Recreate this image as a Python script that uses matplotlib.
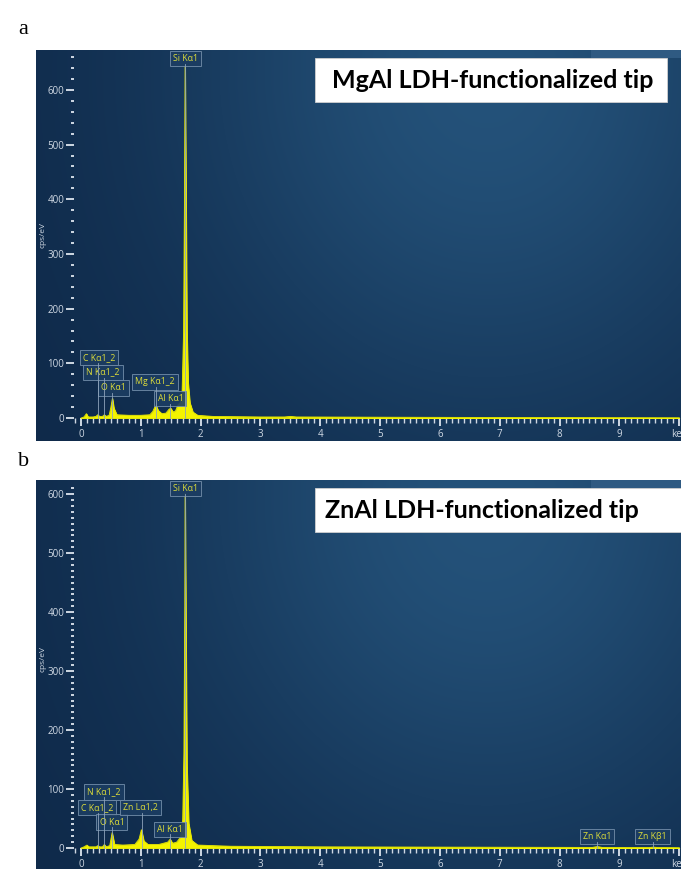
import numpy as np
import matplotlib.pyplot as plt
from matplotlib.patches import Rectangle

# ── Spectrum data ─────────────────────────────────────────────────────────────
energy_a = [0.00, 0.05, 0.09, 0.12, 0.20, 0.25, 0.28, 0.31, 0.36, 0.39, 0.42, 0.47,
            0.50, 0.525, 0.55, 0.60, 0.80, 1.00, 1.15, 1.20, 1.25, 1.29, 1.35, 1.42,
            1.47, 1.50, 1.54, 1.58, 1.62, 1.66, 1.69, 1.715, 1.73, 1.74, 1.755, 1.77,
            1.79, 1.82, 1.87, 1.95, 2.20, 3.00, 3.40, 3.50, 3.60, 5.00, 7.00, 10.0]
counts_a = [0, 2, 8, 2, 2, 3, 6, 3, 3, 6, 3, 5,
            20, 36, 18, 6, 5, 5, 6, 12, 24, 14, 8, 9,
            16, 18, 11, 13, 24, 28, 48, 160, 410, 645, 410, 160,
            65, 28, 11, 5, 3, 2, 2, 3, 2, 1.5, 1, 0.5]

energy_b = [0.00, 0.05, 0.10, 0.13, 0.25, 0.28, 0.31, 0.36, 0.39, 0.42, 0.48, 0.52,
            0.56, 0.70, 0.90, 0.97, 1.01, 1.05, 1.12, 1.30, 1.45, 1.49, 1.53, 1.60,
            1.66, 1.70, 1.72, 1.735, 1.74, 1.755, 1.77, 1.80, 1.85, 1.95, 2.50, 4.00,
            6.00, 8.55, 8.63, 8.71, 9.50, 9.57, 9.64, 10.0]
counts_b = [0, 2, 5, 2, 2, 4, 2, 2, 6, 2, 4, 26,
            6, 5, 6, 15, 31, 12, 6, 6, 10, 15, 8, 10,
            18, 48, 160, 410, 601, 360, 140, 42, 13, 5, 3, 2,
            1.5, 1, 2.5, 1, 0.8, 1.5, 0.8, 0.5]

# peak labels: text, line energy
labels_a = ["Si Kα1", "C Kα1_2", "N Kα1_2", "O Kα1", "Mg Kα1_2", "Al Kα1"]
lines_a = [1.740, 0.277, 0.392, 0.525, 1.254, 1.486]
labels_b = ["Si Kα1", "N Kα1_2", "C Kα1_2", "O Kα1", "Zn Lα1,2", "Al Kα1", "Zn Kα1", "Zn Kβ1"]
lines_b = [1.740, 0.392, 0.277, 0.525, 1.012, 1.486, 8.630, 9.570]

# label box placement (x anchor, y centre, alignment)
place_a = [(1.74, 657, "center"), (0.03, 110, "left"), (0.09, 84, "left"),
           (0.33, 55, "left"), (0.91, 66, "left"), (1.28, 35, "left")]
place_b = [(1.74, 610, "center"), (0.10, 95, "left"), (0.00, 68, "left"),
           (0.31, 44, "left"), (0.71, 68, "left"), (1.27, 32, "left"),
           (8.63, 19, "center"), (9.55, 19, "center")]

titles = ["MgAl LDH-functionalized tip", "ZnAl LDH-functionalized tip"]

YELLOW = "#f4f400"
LABEL_TXT = "#dcdc3a"
TICK_C = "#cfd8e3"
SANS = ["Open Sans", "DejaVu Sans"]

fig = plt.figure(figsize=(6.81, 8.69), dpi=100)
fig.patch.set_facecolor("white")

W, H = 681, 869
ax_a = fig.add_axes([36 / W, (H - 441) / H, (W - 36) / W, (441 - 50) / H])
ax_b = fig.add_axes([36 / W, 0, (W - 36) / W, (H - 480) / H])

# background gradient (dark navy on the left, lighter towards upper right)
gx, gy = np.meshgrid(np.linspace(0, 1, 200), np.linspace(1, 0, 120))
glow = np.exp(-((gx - 0.70) ** 2 / 0.25 + (gy - 0.95) ** 2 / 0.9))
dark = np.array([14, 40, 72]) / 255
light = np.array([36, 82, 122]) / 255
grad = dark + (light - dark) * glow[..., None]


def draw_panel(ax, energy, counts, labels, lines, place, ylim, ymajor, yminor,
               half_box, title, title_x, box_x1, ylab_y):
    ax.imshow(grad, extent=[0, 1, 0, 1], transform=ax.transAxes,
              aspect="auto", zorder=0, interpolation="bilinear")
    # faint strip at top right
    ax.add_patch(Rectangle((0.86, 0.98), 0.14, 0.02, transform=ax.transAxes,
                           facecolor="#2f5a82", edgecolor="none", zorder=1))

    ax.fill_between(energy, counts, 0, color=YELLOW, lw=0.6, zorder=2)
    ax.plot(energy, counts, color="#e8e800", lw=0.6, zorder=2)

    for (txt, e, (lx, ly, ha)) in zip(labels, lines, place):
        ax.plot([e, e], [0, ly - half_box], color="#8ea3ba", lw=0.6, zorder=5)
        ax.text(lx, ly, txt, ha=ha, va="center", fontsize=6.3, color=LABEL_TXT,
                family=SANS, zorder=4,
                bbox=dict(boxstyle="square,pad=0.35", facecolor="#1c3d62",
                          edgecolor="#6f8aa6", linewidth=0.7, alpha=0.9))

    ax.set_xlim(-0.752, 10.03)
    ax.set_ylim(*ylim)

    for s in ax.spines.values():
        s.set_visible(False)
    ax.spines["left"].set_position(("data", -0.117))
    ax.spines["bottom"].set_position(("data", 0))

    ax.set_yticks(np.arange(0, 601, ymajor))
    ax.set_yticks(np.arange(0, ylim[1] - 5, yminor), minor=True)
    ax.set_xticks(np.arange(0, 11, 1))
    ax.set_xticklabels([str(i) for i in range(10)] + ["keV"])
    ax.set_xticks(np.arange(-0.1, 10.05, 0.1), minor=True)

    ax.tick_params(axis="y", which="major", direction="out", length=5.5, width=1.4,
                   color=TICK_C, labelcolor=TICK_C, labelsize=7, pad=1.5)
    ax.tick_params(axis="y", which="minor", direction="out", length=2.5, width=1.4,
                   color=TICK_C)
    ax.tick_params(axis="x", which="major", direction="out", length=6, width=1.4,
                   color=TICK_C, labelcolor=TICK_C, labelsize=7, pad=2)
    ax.tick_params(axis="x", which="minor", direction="out", length=3.5, width=1.0,
                   color=TICK_C)
    for t in ax.get_xticklabels() + ax.get_yticklabels():
        t.set_family(SANS)

    ax.text(-0.64, ylab_y, "cps/eV", rotation=90, ha="center", va="center",
            fontsize=6, color=TICK_C, family=SANS)

    # white title box
    ax.add_patch(Rectangle((0.4326, 0.866), box_x1 - 0.4326, 0.113,
                           transform=ax.transAxes, facecolor="white",
                           edgecolor="#d0d0d0", lw=0.6, zorder=6))
    ax.text(title_x, 0.922, title, transform=ax.transAxes, ha="left", va="center",
            fontsize=18, fontweight="bold", color="black",
            family=["Lato", "DejaVu Sans"], zorder=7)


draw_panel(ax_a, energy_a, counts_a, labels_a, lines_a, place_a,
           (-42, 673), 100, 20, 10, titles[0], 0.459, 0.978, 335)
draw_panel(ax_b, energy_b, counts_b, labels_b, lines_b, place_b,
           (-35.6, 624), 100, 10, 9, titles[1], 0.448, 1.0, 320)

fig.text(18 / W, 1 - 30 / H, "a", fontsize=16, family="Liberation Serif",
         ha="left", va="center")
fig.text(18 / W, 1 - 462 / H, "b", fontsize=16, family="Liberation Serif",
         ha="left", va="center")

fig.savefig("out.png", dpi=100)
